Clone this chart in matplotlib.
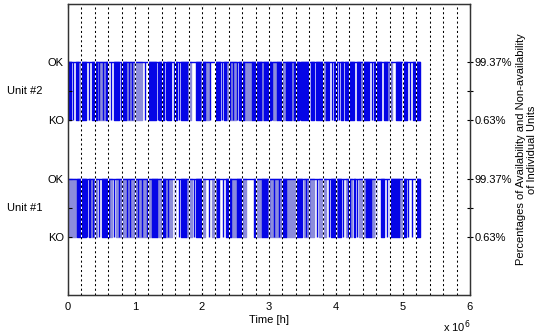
import matplotlib.pyplot as plt
import numpy as np

plt.rcParams['font.family'] = ['Liberation Sans', 'DejaVu Sans']

# signal levels (KO / OK) for each unit
unit_names = ['Unit #1', 'Unit #2']
ko_level = [0, 2]
ok_level = [1, 3]
avail_labels = ['0.63%', '99.37%']
t_end = 5.26  # x 1e6 h

# outage bands, (start, end) in 1e6 h
u2_dark = [(0.00, 0.05), (0.12, 0.15), (0.21, 0.27), (0.36, 0.39), (0.40, 0.43),
           (0.57, 0.60), (0.69, 0.76), (0.81, 0.87), (1.21, 1.31), (1.36, 1.43),
           (1.48, 1.54), (1.58, 1.63), (1.69, 1.78), (1.91, 1.97), (2.00, 2.04),
           (2.21, 2.27), (2.33, 2.36), (2.55, 2.63), (2.75, 2.88), (2.93, 3.03),
           (3.12, 3.19), (3.25, 3.33), (3.37, 3.45), (3.48, 3.60), (3.63, 3.67),
           (3.70, 3.79), (3.85, 3.90), (3.97, 4.01), (4.07, 4.10), (4.13, 4.27),
           (4.31, 4.36), (4.40, 4.49), (4.57, 4.67), (4.72, 4.76), (4.90, 4.97),
           (5.01, 5.06), (5.15, 5.26)]
u2_light = [(0.15, 0.21), (0.43, 0.57), (0.87, 1.10), (1.78, 1.84), (1.97, 2.00),
            (2.04, 2.10), (2.36, 2.51), (2.63, 2.75), (2.88, 2.92), (3.06, 3.12),
            (3.19, 3.24), (3.33, 3.37), (3.79, 3.85), (4.36, 4.40), (4.76, 4.84)]
u2_thin = [0.08, 0.32, 0.47, 0.52, 0.64, 0.79, 0.91, 0.95, 1.15, 1.34, 1.46, 1.66,
           2.12, 2.30, 2.42, 2.46, 2.53, 3.05, 3.47, 3.94, 4.04, 4.54, 4.80, 5.10]

u1_dark = [(0.13, 0.27), (0.31, 0.33), (0.51, 0.61), (1.25, 1.33), (1.40, 1.45),
           (1.69, 1.76), (1.91, 1.99), (2.22, 2.26), (2.36, 2.43), (2.52, 2.60),
           (2.77, 2.79), (2.90, 2.97), (3.20, 3.25), (3.42, 3.49), (3.93, 4.00),
           (4.03, 4.07), (4.27, 4.29), (4.45, 4.52), (4.67, 4.72), (4.81, 4.94),
           (5.01, 5.05), (5.19, 5.26)]
u1_light = [(0.00, 0.12), (0.34, 0.43), (0.61, 0.66), (0.72, 1.25), (1.33, 1.40),
            (1.45, 1.55), (1.76, 1.85), (1.99, 2.05), (2.15, 2.22), (2.43, 2.52),
            (2.60, 2.66), (2.81, 2.90), (2.97, 3.20), (3.25, 3.42), (3.52, 3.67),
            (3.75, 3.85), (4.00, 4.03), (4.15, 4.24), (4.34, 4.45), (4.52, 4.57),
            (4.94, 5.00)]
u1_thin = [0.29, 0.37, 0.40, 0.46, 0.69, 0.76, 0.81, 0.88, 0.93, 1.00, 1.05, 1.10,
           1.18, 1.50, 1.60, 1.65, 1.88, 2.10, 2.32, 3.00, 3.08, 3.15, 3.55, 3.60,
           3.71, 3.89, 4.11, 4.18, 4.21, 4.31, 4.60, 4.76, 5.08, 5.14]

grid_x = [round(0.2 * i, 1) for i in range(1, 30)]

dark = '#0505e6'
light = '#8c8cdc'

fig = plt.figure(figsize=(5.5, 3.34), dpi=100)
ax = fig.add_axes([0.1236, 0.1168, 0.7309, 0.8712])

units = [(u1_dark, u1_light, u1_thin), (u2_dark, u2_light, u2_thin)]
for k, (d, l, th) in enumerate(units):
    lo, hi = ko_level[k], ok_level[k]
    ax.broken_barh([(a, b - a) for a, b in l], (lo, hi - lo), facecolor=light,
                   edgecolor=light, linewidth=1.0)
    ax.broken_barh([(a, b - a) for a, b in d], (lo, hi - lo), facecolor=dark,
                   edgecolor=dark, linewidth=1.0)
    ax.vlines(th, lo, hi, color=dark, linewidth=1.0)
    ax.hlines(hi, 0, t_end, color=dark, linewidth=1.0)

ax.vlines(grid_x, -1, 4, color='black', linewidth=0.75,
          linestyles=(0, (2, 2.5)), gapcolor='white', zorder=3)

ax.set_xlim(0, 6)
ax.set_ylim(-1, 4)
ax.set_xticks(range(0, 7))
ax.set_xticklabels([str(i) for i in range(0, 7)], fontsize=8)
ax.set_yticks([0, 0.5, 1, 2, 2.5, 3])
ax.set_yticklabels(['KO', '', 'OK', 'KO', '', 'OK'], fontsize=8)
ax.tick_params(direction='in', length=3, top=True, pad=3)
ax.tick_params(axis='x', pad=5)
ax.set_xlabel('Time [h]', fontsize=8, labelpad=2)

for k, name in enumerate(unit_names):
    ax.text(-0.107, (ko_level[k] + ok_level[k]) / 2, name, fontsize=8,
            ha='center', va='center', transform=ax.get_yaxis_transform())

ax.text(0.967, -0.11, r'x 10$^6$', fontsize=8, ha='center', va='center',
        transform=ax.transAxes)

ax2 = ax.twinx()
ax2.set_ylim(-1, 4)
ax2.set_yticks([0, 0.5, 1, 2, 2.5, 3])
ax2.set_yticklabels([avail_labels[0], '', avail_labels[1],
                     avail_labels[0], '', avail_labels[1]], fontsize=8)
ax2.tick_params(direction='inout', length=4, pad=1)
ax2.set_ylabel('Percentages of Availability and Non-availability\nof Individual Units',
               fontsize=8, labelpad=3)

for a in (ax, ax2):
    for s in a.spines.values():
        s.set_color('#333333')
        s.set_linewidth(0.9)

fig.savefig('out.png', dpi=100)
